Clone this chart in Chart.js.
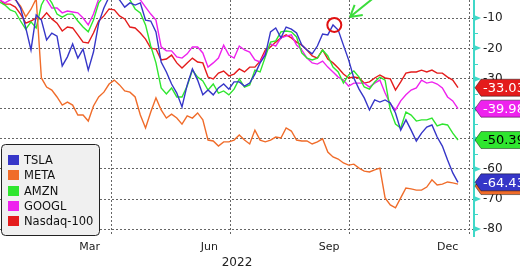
<!DOCTYPE html>
<html>
<head>
<meta charset="utf-8">
<script src="https://cdn.jsdelivr.net/npm/chart.js@4.4.0/dist/chart.umd.min.js"></script>
<style>
  html, body { margin: 0; padding: 0; background: #fff; }
  canvas { display: block; }
</style>
</head>
<body>
<canvas id="chart" width="520" height="272"></canvas>
<script>
// day of year 2022, sampled every 4 days
const days = [5, 9, 13, 17, 21, 25, 29, 33, 37, 41, 45, 49, 53, 57, 61, 65, 69, 73, 77, 81,
  85, 89, 93, 97, 101, 105, 109, 113, 117, 121, 125, 129, 133, 137, 141, 145, 149, 153, 157, 161,
  165, 169, 173, 177, 181, 185, 189, 193, 197, 201, 205, 209, 213, 217, 221, 225, 229, 233, 237, 241,
  245, 249, 253, 257, 261, 265, 269, 273, 277, 281, 285, 289, 293, 297, 301, 305, 309, 313, 317, 321,
  325, 329, 333, 337, 341, 345, 349, 353, 357];

// % change YTD
const tsla = [-1.3, -1.9, -2.6, -3.6, -6.6, -13.2, -20.5, -8.9, -10.6, -17.2,
  -14.9, -15.9, -25.8, -22.8, -18.5, -23.2, -20.2, -27.2, -21.2, -11.6,
  -6.6, -2.9, -2.3, -3.9, -6.3, -4.9, -5.6, -4.9, -10.6, -10.9,
  -14.5, -24.5, -27.8, -31.8, -34.8, -39.4, -32.1, -26.8, -30.5, -35.4,
  -33.8, -35.4, -33.1, -31.8, -33.5, -31.1, -31.1, -32.5, -31.5, -28.5,
  -24.8, -22.2, -14.5, -13.2, -16.5, -12.9, -13.6, -14.9, -18.9, -20.5,
  -21.8, -19.2, -15.2, -15.5, -12.2, -13.9, -18.9, -23.8, -29.8, -33.5,
  -36.4, -40.4, -37.1, -37.8, -37.1, -38.1, -41.4, -47.1, -43.7, -47.1,
  -50.7, -48.1, -46.1, -45.4, -49.4, -52.4, -57.0, -61.3, -64.43];
const meta = [-2.3, -2.9, -2.9, -3.9, -6.0, -9.5, -7.0, -3.5, -29.8, -32.8,
  -33.8, -36.1, -38.8, -37.8, -38.8, -42.1, -42.1, -44.1, -39.1, -36.1,
  -34.5, -31.8, -30.5, -32.1, -34.1, -34.5, -36.1, -42.1, -46.4, -41.1,
  -36.4, -40.4, -43.1, -41.8, -43.1, -45.1, -42.4, -43.1, -41.4, -43.7,
  -50.4, -50.7, -52.4, -51.0, -51.0, -50.4, -48.7, -50.4, -51.7, -47.1,
  -50.4, -51.0, -50.4, -49.4, -49.7, -46.4, -47.4, -50.4, -50.7, -50.7,
  -51.7, -51.0, -50.0, -54.4, -56.0, -56.7, -58.0, -58.7, -58.4, -59.7,
  -60.7, -61.0, -60.3, -59.7, -69.6, -71.9, -72.9, -69.6, -66.3, -66.6,
  -67.0, -67.0, -66.0, -63.6, -65.3, -65.0, -64.3, -64.6, -65.0];
const amzn = [-4.6, -5.6, -7.2, -7.9, -10.9, -13.6, -11.2, -13.2, -5.6, -2.3,
  -4.9, -8.6, -9.6, -8.6, -8.6, -10.9, -12.9, -14.5, -10.6, -4.9,
  -2.6, -1.9, -1.9, -2.3, -2.9, -3.9, -6.9, -8.2, -12.2, -19.2,
  -24.8, -33.1, -35.1, -33.1, -36.1, -36.1, -32.5, -27.2, -29.5, -30.8,
  -33.8, -31.8, -34.8, -34.1, -35.4, -33.5, -30.1, -32.8, -32.1, -27.2,
  -27.8, -22.8, -17.9, -17.5, -14.5, -14.2, -14.5, -16.2, -21.5, -23.2,
  -23.8, -23.2, -20.5, -22.5, -26.2, -27.8, -31.5, -28.8, -27.5, -29.5,
  -32.8, -33.5, -31.1, -29.5, -30.5, -40.4, -45.1, -46.4, -41.1, -42.1,
  -44.1, -43.7, -43.7, -43.1, -45.7, -45.1, -45.4, -48.1, -50.39];
const googl = [-3.9, -4.9, -3.9, -3.3, -2.9, -2.9, -2.9, -2.9, -2.9, -3.9,
  -6.6, -6.6, -8.2, -7.6, -7.9, -8.2, -9.9, -12.2, -8.6, -3.6,
  -2.9, -2.3, -2.3, -2.6, -2.6, -2.9, -3.3, -3.9, -6.3, -8.6,
  -10.6, -19.5, -20.8, -20.8, -22.8, -23.2, -21.8, -19.5, -19.5, -21.5,
  -26.2, -24.8, -23.2, -18.9, -22.2, -23.2, -19.2, -20.5, -21.2, -23.8,
  -24.5, -21.5, -18.5, -19.2, -16.5, -15.9, -15.5, -18.9, -20.5, -23.2,
  -24.8, -25.2, -24.2, -26.2, -27.8, -29.5, -30.5, -32.5, -31.5, -31.5,
  -31.5, -32.8, -31.5, -30.5, -34.8, -38.4, -40.4, -37.4, -35.4, -33.8,
  -33.1, -30.5, -31.5, -31.1, -31.8, -33.1, -36.1, -37.4, -39.98];
const ndx = [-3.9, -5.3, -5.3, -6.3, -8.6, -11.6, -10.9, -9.9, -10.2, -8.2,
  -10.2, -11.6, -14.2, -12.9, -13.2, -15.5, -17.9, -18.2, -14.9, -10.9,
  -9.2, -6.9, -7.2, -9.2, -10.2, -12.9, -13.2, -14.9, -16.9, -19.9,
  -20.2, -23.8, -23.5, -22.2, -24.8, -26.5, -24.8, -23.2, -24.5, -24.8,
  -29.5, -30.1, -28.2, -27.5, -29.1, -28.5, -26.8, -27.8, -26.2, -26.2,
  -24.2, -20.5, -19.5, -17.9, -16.5, -15.5, -16.5, -17.9, -18.9, -20.5,
  -22.5, -23.2, -20.5, -23.5, -24.8, -26.5, -28.5, -29.8, -29.5, -29.8,
  -31.5, -31.1, -29.8, -28.8, -29.8, -30.1, -33.8, -31.1, -28.2, -27.8,
  -27.8, -27.2, -27.8, -27.2, -28.2, -28.2, -29.5, -30.5, -33.03];

const seriesNames = ['TSLA', 'META', 'AMZN', 'GOOGL', 'Nasdaq-100'];
const seriesData = [tsla, meta, amzn, googl, ndx];
const lineColors = ['#3636c8', '#f06c2a', '#2fe62f', '#ee22ee', '#e41c1c'];
const boxText = ['#ffffff', '#ffffff', '#000000', '#ffffff', '#ffffff'];

const quarterDays = [91, 182, 274, 366];
const monthDays = [74, 166, 258, 349];
const monthLabels = ['Mar', 'Jun', 'Sep', 'Dec'];
const yTicks = [-80, -75, -70, -65, -60, -55, -50, -45, -40, -35, -30, -25, -20, -15, -10];
const yearLabel = '2022';

// annotation: circle on TSLA's Sep high, arrow pointing at it
const circleAt = { x: 262, y: -12.2 };
const arrowTail = { x: 292, y: -3.3 };
const arrowTip = { x: 274, y: -9.6 };

const gridColor = '#666666';
const axisColor = '#40d8c8';
const font = '"DejaVu Sans", sans-serif';

const overlay = {
  id: 'overlay',
  afterDraw(chart) {
    const ctx = chart.ctx;
    const xs = chart.scales.x;
    const ys = chart.scales.y;
    const area = chart.chartArea;
    ctx.save();

    // axis tick marks
    ctx.fillStyle = axisColor;
    ctx.strokeStyle = axisColor;
    ctx.lineWidth = 1;
    yTicks.forEach(v => {
      const py = Math.round(ys.getPixelForValue(v));
      if (v % 10 === 0) {
        ctx.beginPath();
        ctx.moveTo(area.right, py - 3);
        ctx.lineTo(area.right + 7, py);
        ctx.lineTo(area.right, py + 3);
        ctx.closePath();
        ctx.fill();
      } else {
        ctx.beginPath();
        ctx.moveTo(area.right, py + 0.5);
        ctx.lineTo(area.right + 4, py + 0.5);
        ctx.stroke();
      }
    });

    // circle + arrow
    ctx.strokeStyle = '#e01010';
    ctx.lineWidth = 2;
    ctx.beginPath();
    ctx.arc(xs.getPixelForValue(circleAt.x), ys.getPixelForValue(circleAt.y), 7, 0, Math.PI * 2);
    ctx.stroke();

    const tx = xs.getPixelForValue(arrowTip.x), ty = ys.getPixelForValue(arrowTip.y);
    const bx = xs.getPixelForValue(arrowTail.x), by = ys.getPixelForValue(arrowTail.y);
    const ang = Math.atan2(by - ty, bx - tx);
    ctx.strokeStyle = '#3cdc3c';
    ctx.lineWidth = 2;
    ctx.beginPath();
    ctx.moveTo(bx, by);
    ctx.lineTo(tx, ty);
    [ang - 0.52, ang + 0.52].forEach(a => {
      ctx.moveTo(tx, ty);
      ctx.lineTo(tx + 13 * Math.cos(a), ty + 13 * Math.sin(a));
    });
    ctx.stroke();

    // last value boxes (drawn bottom of the list first so TSLA sits on META)
    for (let i = seriesData.length - 1; i >= 0; i--) {
      const arr = seriesData[i];
      const last = arr[arr.length - 1];
      const cy = ys.getPixelForValue(last) + (i === 1 ? 2 : 0);
      const x0 = area.right + 1;
      ctx.beginPath();
      ctx.moveTo(x0, cy);
      ctx.lineTo(x0 + 6, cy - 8.5);
      ctx.lineTo(530, cy - 8.5);
      ctx.lineTo(530, cy + 8.5);
      ctx.lineTo(x0 + 6, cy + 8.5);
      ctx.closePath();
      ctx.fillStyle = lineColors[i];
      ctx.fill();
      ctx.strokeStyle = 'rgba(0,0,0,0.45)';
      ctx.lineWidth = 1;
      ctx.stroke();
      ctx.fillStyle = boxText[i];
      ctx.font = '13px ' + font;
      ctx.textAlign = 'left';
      ctx.textBaseline = 'middle';
      ctx.fillText(last.toFixed(2), x0 + 8, cy + 1);
    }

    // legend box
    const lx = 1.5, ly = 144.5, lw = 98, lh = 91, r = 4;
    ctx.beginPath();
    ctx.moveTo(lx + r, ly);
    ctx.arcTo(lx + lw, ly, lx + lw, ly + lh, r);
    ctx.arcTo(lx + lw, ly + lh, lx, ly + lh, r);
    ctx.arcTo(lx, ly + lh, lx, ly, r);
    ctx.arcTo(lx, ly, lx + lw, ly, r);
    ctx.closePath();
    ctx.fillStyle = '#f0f0f0';
    ctx.fill();
    ctx.strokeStyle = '#222';
    ctx.lineWidth = 1;
    ctx.stroke();

    ctx.font = '11.5px ' + font;
    ctx.textBaseline = 'middle';
    ctx.textAlign = 'left';
    seriesNames.forEach((name, i) => {
      const ry = 160 + i * 15.3;
      ctx.fillStyle = lineColors[i];
      ctx.fillRect(8, Math.round(ry - 5), 11, 10);
      ctx.fillStyle = '#111';
      ctx.fillText(name, 24, ry + 1);
    });

    ctx.restore();
  }
};

new Chart(document.getElementById('chart'), {
  type: 'line',
  data: {
    datasets: seriesData.map((arr, i) => ({
      label: seriesNames[i],
      data: days.map((d, j) => ({ x: d, y: arr[j] })),
      borderColor: lineColors[i],
      backgroundColor: lineColors[i],
      borderWidth: 1.4,
      pointRadius: 0,
      tension: 0,
      fill: false
    }))
  },
  options: {
    responsive: false,
    animation: false,
    devicePixelRatio: 1,
    layout: { padding: 0 },
    plugins: {
      legend: { display: false },
      tooltip: { enabled: false }
    },
    scales: {
      x: {
        type: 'linear',
        position: 'bottom',
        min: 5.2,
        max: 369.3,
        afterBuildTicks: s => {
          s.ticks = quarterDays.concat(monthDays).sort((a, b) => a - b).map(v => ({ value: v }));
        },
        afterFit: s => {
          s.height = 36;
          s.paddingLeft = 0;
          s.paddingRight = 0;
        },
        ticks: {
          autoSkip: false,
          maxRotation: 0,
          padding: 5,
          color: '#222',
          font: { family: 'DejaVu Sans', size: 11 },
          callback: v => {
            const k = monthDays.indexOf(v);
            return k >= 0 ? monthLabels[k] : '';
          }
        },
        grid: {
          drawTicks: false,
          color: c => (c.tick && quarterDays.includes(c.tick.value)) ? gridColor : 'rgba(0,0,0,0)',
          lineWidth: 1
        },
        border: { display: false, dash: [2, 2] },
        title: {
          display: true,
          text: yearLabel,
          color: '#222',
          font: { family: 'DejaVu Sans', size: 12 },
          padding: { top: 0, bottom: 2 }
        }
      },
      y: {
        type: 'linear',
        position: 'right',
        min: -82.23,
        max: -3.93,
        afterBuildTicks: s => { s.ticks = yTicks.map(v => ({ value: v })); },
        afterFit: s => {
          s.width = 46;
          s.paddingTop = 0;
          s.paddingBottom = 0;
        },
        ticks: {
          autoSkip: false,
          padding: 3,
          color: '#222',
          font: { family: 'DejaVu Sans', size: 12 },
          callback: v => (v % 10 === 0 ? String(v) : '')
        },
        grid: {
          drawTicks: true,
          tickLength: 6,
          tickColor: 'rgba(0,0,0,0)',
          color: c => (c.tick && c.tick.value % 10 === 0) ? gridColor : 'rgba(0,0,0,0)',
          lineWidth: 1
        },
        border: { display: true, color: axisColor, width: 2, dash: [2, 2] }
      }
    }
  },
  plugins: [overlay]
});
</script>
</body>
</html>
